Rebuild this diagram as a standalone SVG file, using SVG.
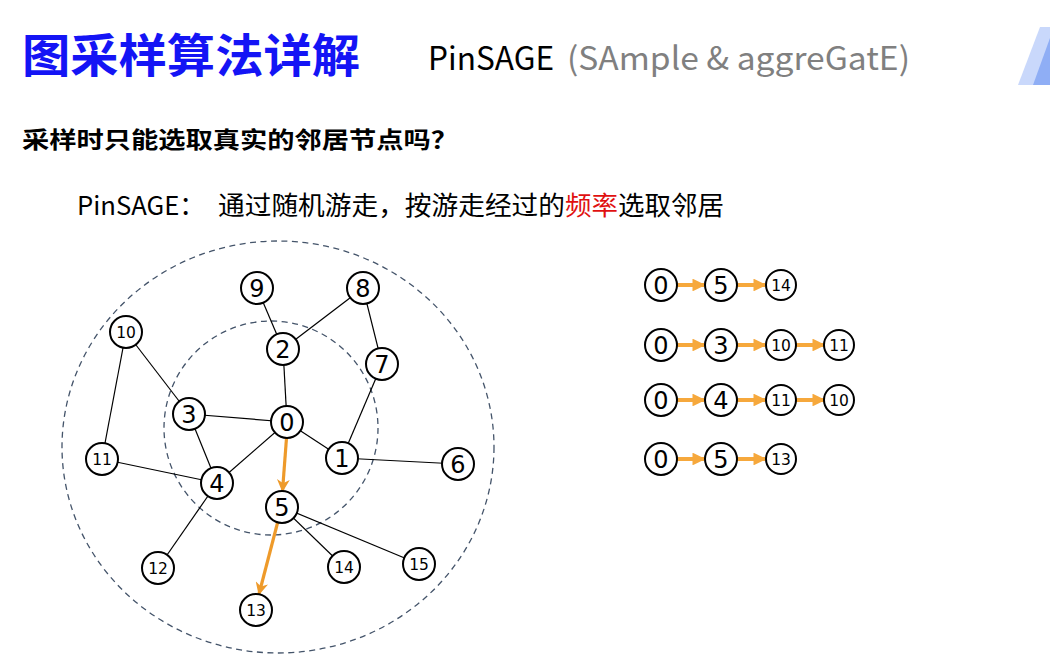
<svg xmlns="http://www.w3.org/2000/svg" width="1050" height="666" viewBox="0 0 1050 666">
<style>
.n circle{fill:#fff;stroke:#000;stroke-width:2}
.n text{font-family:"DejaVu Sans",Verdana,sans-serif;text-anchor:middle;fill:#000}
.big{font-size:24px}
.sm{font-size:15.5px}
.e{stroke:#000;stroke-width:1.2;fill:none}
.ring{fill:none;stroke:#44546A;stroke-width:1.3;stroke-dasharray:6 4.5}
.wk{stroke:#EE9A2A;stroke-width:3.2;fill:none}
.ch{stroke:#F6A83C;stroke-width:4;fill:none}
.cjk{font-family:"Noto Sans CJK SC","Microsoft YaHei",sans-serif}
</style>
<defs>
<marker id="ah" viewBox="0 0 10 10" refX="9" refY="5" markerWidth="4" markerHeight="4" orient="auto" markerUnits="strokeWidth">
<path d="M0,0 L10,5 L0,10 L3,5 z" fill="#EE9A2A"/>
</marker>
<marker id="ah2" viewBox="0 0 10 10" refX="9" refY="5" markerWidth="3.2" markerHeight="3.2" orient="auto" markerUnits="strokeWidth">
<path d="M0,0 L10,5 L0,10 z" fill="#F6A83C"/>
</marker>
</defs>
<rect width="1050" height="666" fill="#fff"/>
<g id="corner">
<polygon points="1018,85 1040,27 1050,27 1050,85" fill="#C9D8FB"/>
<polygon points="1033,85 1050,38 1050,85" fill="#8FAEF5"/>
</g>
<g id="title">
<text x="22" y="72" class="cjk" font-size="46" font-weight="bold" fill="#1414F5" textLength="338" lengthAdjust="spacingAndGlyphs">图采样算法详解</text>
<text x="428" y="70" class="cjk" font-size="32" fill="#000" textLength="126" lengthAdjust="spacingAndGlyphs">PinSAGE</text>
<text x="567" y="70" class="cjk" font-size="32" fill="#808080" textLength="343" lengthAdjust="spacingAndGlyphs">(SAmple &amp; aggreGatE)</text>
</g>
<text x="22" y="148" class="cjk" font-size="23" font-weight="bold" fill="#000" textLength="436" lengthAdjust="spacingAndGlyphs">采样时只能选取真实的邻居节点吗？</text>
<g id="desc" class="cjk" font-size="26">
<text x="77" y="215" fill="#000" textLength="128" lengthAdjust="spacingAndGlyphs">PinSAGE：</text>
<text x="218" y="215" fill="#000" textLength="347" lengthAdjust="spacingAndGlyphs">通过随机游走，按游走经过的</text>
<text x="565" y="215" fill="#E01010" textLength="53" lengthAdjust="spacingAndGlyphs">频率</text>
<text x="618" y="215" fill="#000" textLength="106" lengthAdjust="spacingAndGlyphs">选取邻居</text>
</g>
<g id="rings">
<ellipse class="ring" cx="278" cy="447" rx="216" ry="206"/>
<circle class="ring" cx="271" cy="428" r="107"/>
</g>
<g id="connectors">
<line class="e" x1="257" y1="288" x2="283" y2="349"/>
<line class="e" x1="363" y1="288" x2="283" y2="349"/>
<line class="e" x1="363" y1="288" x2="382" y2="364"/>
<line class="e" x1="382" y1="364" x2="342" y2="458"/>
<line class="e" x1="283" y1="349" x2="287" y2="422"/>
<line class="e" x1="126" y1="332" x2="189" y2="414"/>
<line class="e" x1="126" y1="332" x2="102" y2="459"/>
<line class="e" x1="189" y1="414" x2="287" y2="422"/>
<line class="e" x1="189" y1="414" x2="217" y2="483"/>
<line class="e" x1="287" y1="422" x2="217" y2="483"/>
<line class="e" x1="287" y1="422" x2="342" y2="458"/>
<line class="e" x1="342" y1="458" x2="458" y2="464"/>
<line class="e" x1="102" y1="459" x2="217" y2="483"/>
<line class="e" x1="217" y1="483" x2="158" y2="568"/>
<line class="e" x1="282" y1="507" x2="344" y2="567"/>
<line class="e" x1="282" y1="507" x2="419" y2="564"/>
<line class="wk" x1="286.5" y1="438" x2="282.5" y2="491" marker-end="url(#ah)"/>
<line class="wk" x1="277.5" y1="523" x2="259" y2="594" marker-end="url(#ah)"/>
<line class="ch" x1="677" y1="285" x2="704" y2="285" marker-end="url(#ah2)"/>
<line class="ch" x1="737" y1="285" x2="765" y2="285" marker-end="url(#ah2)"/>
<line class="ch" x1="677" y1="345" x2="704" y2="345" marker-end="url(#ah2)"/>
<line class="ch" x1="737" y1="345" x2="765" y2="345" marker-end="url(#ah2)"/>
<line class="ch" x1="796" y1="345" x2="824" y2="345" marker-end="url(#ah2)"/>
<line class="ch" x1="677" y1="400" x2="704" y2="400" marker-end="url(#ah2)"/>
<line class="ch" x1="737" y1="400" x2="765" y2="400" marker-end="url(#ah2)"/>
<line class="ch" x1="796" y1="400" x2="824" y2="400" marker-end="url(#ah2)"/>
<line class="ch" x1="677" y1="459" x2="704" y2="459" marker-end="url(#ah2)"/>
<line class="ch" x1="737" y1="459" x2="765" y2="459" marker-end="url(#ah2)"/>
</g>
<g id="n0" class="n"><circle cx="287" cy="422" r="16"/><text class="big" x="287" y="431">0</text></g>
<g id="n1" class="n"><circle cx="342" cy="458" r="16"/><text class="big" x="342" y="467">1</text></g>
<g id="n2" class="n"><circle cx="283" cy="349" r="16"/><text class="big" x="283" y="358">2</text></g>
<g id="n3" class="n"><circle cx="189" cy="414" r="16"/><text class="big" x="189" y="423">3</text></g>
<g id="n4" class="n"><circle cx="217" cy="483" r="16"/><text class="big" x="217" y="492">4</text></g>
<g id="n5" class="n"><circle cx="282" cy="507" r="16"/><text class="big" x="282" y="516">5</text></g>
<g id="n6" class="n"><circle cx="458" cy="464" r="16"/><text class="big" x="458" y="473">6</text></g>
<g id="n7" class="n"><circle cx="382" cy="364" r="16"/><text class="big" x="382" y="373">7</text></g>
<g id="n8" class="n"><circle cx="363" cy="288" r="16"/><text class="big" x="363" y="297">8</text></g>
<g id="n9" class="n"><circle cx="257" cy="288" r="16"/><text class="big" x="257" y="297">9</text></g>
<g id="n10" class="n"><circle cx="126" cy="332" r="16"/><text class="sm" x="126" y="337.5">10</text></g>
<g id="n11" class="n"><circle cx="102" cy="459" r="16"/><text class="sm" x="102" y="464.5">11</text></g>
<g id="n12" class="n"><circle cx="158" cy="568" r="16"/><text class="sm" x="158" y="573.5">12</text></g>
<g id="n13" class="n"><circle cx="256" cy="610" r="16"/><text class="sm" x="256" y="615.5">13</text></g>
<g id="n14" class="n"><circle cx="344" cy="567" r="16"/><text class="sm" x="344" y="572.5">14</text></g>
<g id="n15" class="n"><circle cx="419" cy="564" r="16"/><text class="sm" x="419" y="569.5">15</text></g>
<g id="w1a" class="n"><circle cx="661" cy="285" r="16"/><text class="big" x="661" y="294">0</text></g>
<g id="w1b" class="n"><circle cx="721" cy="285" r="16"/><text class="big" x="721" y="294">5</text></g>
<g id="w1c" class="n"><circle cx="781" cy="285" r="15"/><text class="sm" x="781" y="290.5">14</text></g>
<g id="w2a" class="n"><circle cx="661" cy="345" r="16"/><text class="big" x="661" y="354">0</text></g>
<g id="w2b" class="n"><circle cx="721" cy="345" r="16"/><text class="big" x="721" y="354">3</text></g>
<g id="w2c" class="n"><circle cx="781" cy="345" r="15"/><text class="sm" x="781" y="350.5">10</text></g>
<g id="w2d" class="n"><circle cx="839" cy="345" r="15"/><text class="sm" x="839" y="350.5">11</text></g>
<g id="w3a" class="n"><circle cx="661" cy="400" r="16"/><text class="big" x="661" y="409">0</text></g>
<g id="w3b" class="n"><circle cx="721" cy="400" r="16"/><text class="big" x="721" y="409">4</text></g>
<g id="w3c" class="n"><circle cx="781" cy="400" r="15"/><text class="sm" x="781" y="405.5">11</text></g>
<g id="w3d" class="n"><circle cx="839" cy="400" r="15"/><text class="sm" x="839" y="405.5">10</text></g>
<g id="w4a" class="n"><circle cx="661" cy="459" r="16"/><text class="big" x="661" y="468">0</text></g>
<g id="w4b" class="n"><circle cx="721" cy="459" r="16"/><text class="big" x="721" y="468">5</text></g>
<g id="w4c" class="n"><circle cx="781" cy="459" r="15"/><text class="sm" x="781" y="464.5">13</text></g>
</svg>
